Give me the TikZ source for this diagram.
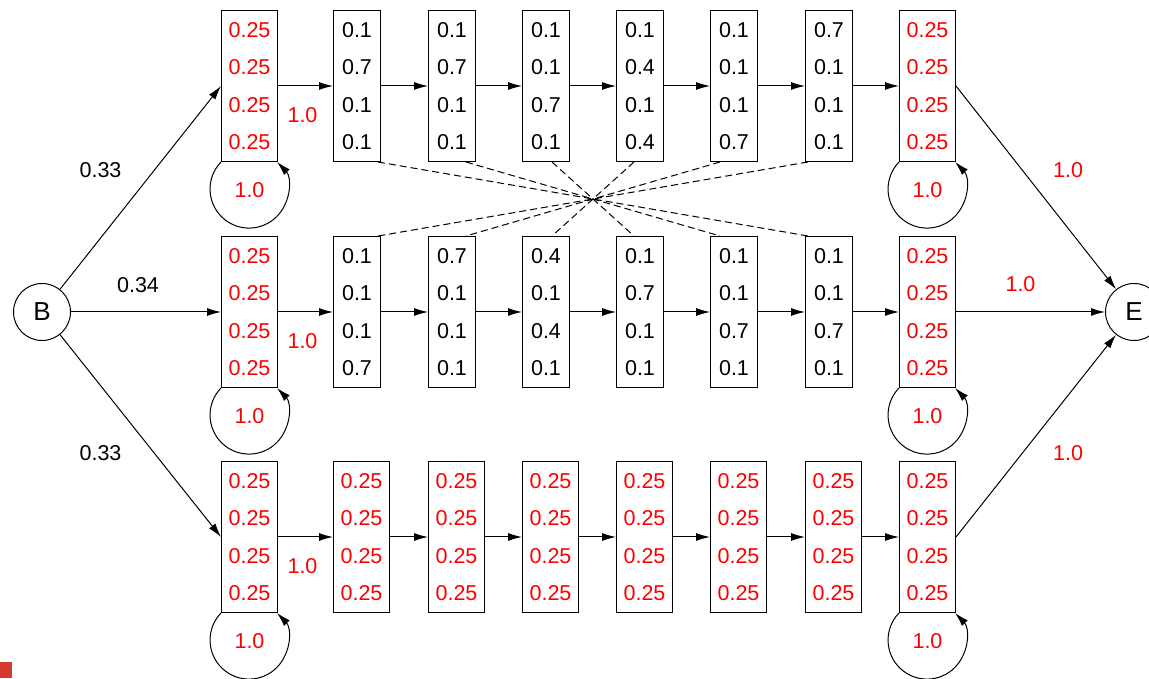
\documentclass[tikz,border=0pt]{standalone}
\usepackage{fontspec}
\setmainfont{Liberation Sans}
\usetikzlibrary{arrows.meta,positioning,calc}
\definecolor{probred}{RGB}{250,0,0}
\definecolor{markred}{RGB}{214,58,46}

\begin{document}
\begin{tikzpicture}[x=1pt,y=1pt,
    every node/.style={font=\fontsize{21.5}{37.5}\selectfont},
    state/.style={draw, rectangle, line width=1pt, minimum height=151pt,
                  inner sep=0pt, align=center, anchor=west},
    emit/.style={state, minimum width=47pt},
    flat/.style={state, minimum width=56pt, text=probred},
    term/.style={draw, circle, line width=1pt, minimum size=57pt, inner sep=0pt,
                 font=\fontsize{26}{30}\selectfont},
    trans/.style={line width=1pt, -{Latex[length=14pt,width=8pt]}},
    link/.style={line width=1pt, dash pattern=on 7pt off 4pt},
    lbl/.style={text=probred}]
  \useasboundingbox (0,0) rectangle (1149,678);

  % Begin and end states
  \node[term] (B) at (42,366) {B};
  \node[term] (E) at (1134,366) {E};

  % Flat states at both ends of every row
  \foreach \row/\y in {t/592, m/366, b/141} {
    \node[flat] (\row1) at (221,\y) {0.25\\0.25\\0.25\\0.25};
    \node[flat] (\row8) at (899,\y) {0.25\\0.25\\0.25\\0.25};
  }

  % Top row
  \foreach \n/\x/\pa/\pb/\pc/\pd in {
    2/333/0.1/0.7/0.1/0.1, 3/428/0.1/0.7/0.1/0.1, 4/522/0.1/0.1/0.7/0.1,
    5/616/0.1/0.4/0.1/0.4, 6/710/0.1/0.1/0.1/0.7, 7/805/0.7/0.1/0.1/0.1}
    \node[emit] (t\n) at (\x,592) {\pa\\\pb\\\pc\\\pd};

  % Middle row
  \foreach \n/\x/\pa/\pb/\pc/\pd in {
    2/333/0.1/0.1/0.1/0.7, 3/428/0.7/0.1/0.1/0.1, 4/522/0.4/0.1/0.4/0.1,
    5/616/0.1/0.7/0.1/0.1, 6/710/0.1/0.1/0.7/0.1, 7/805/0.1/0.1/0.7/0.1}
    \node[emit] (m\n) at (\x,366) {\pa\\\pb\\\pc\\\pd};

  % Bottom row (background model)
  \foreach \n/\x in {2/333, 3/428, 4/522, 5/616, 6/710, 7/805}
    \node[flat] (b\n) at (\x,141) {0.25\\0.25\\0.25\\0.25};

  % Entry transitions
  \draw[trans] (B) -- node[xshift=-40pt, yshift=18pt] {0.33} (t1.west);
  \draw[trans] (B) -- node[xshift=-8pt, yshift=27pt] {0.34} (m1.west);
  \draw[trans] (B) -- node[xshift=-40pt, yshift=-17pt] {0.33} (b1.west);

  % Exit transitions
  \draw[trans] (t8.east) -- node[lbl, xshift=32pt, yshift=18pt] {1.0} (E);
  \draw[trans] (m8.east) -- node[lbl, xshift=-10pt, yshift=28pt] {1.0} (E);
  \draw[trans] (b8.east) -- node[lbl, xshift=32pt, yshift=-17pt] {1.0} (E);

  % Chains along each row
  \foreach \row in {t,m,b} {
    \draw[trans] (\row1) -- node[lbl, xshift=-3pt, yshift=-29pt] {1.0} (\row2);
    \foreach \i [count=\j from 3] in {2,...,7}
      \draw[trans] (\row\i) -- (\row\j);
  }

  % Self loops on the flat states
  \foreach \st in {t1,t8,m1,m8,b1,b8} {
    \draw[trans] (\st.south west) arc[start angle=136, end angle=404, radius=39];
    \node[lbl] (l\st) at ([yshift=-28pt]\st.south) {1.0};
  }

  % Reversed motif links between top and middle rows
  \foreach \i/\j/\da/\db in {2/7/21/-21, 3/6/14/-14, 4/5/6/-6,
                             5/4/-6/6, 6/3/-14/14, 7/2/-21/21}
    \draw[link] ([xshift=\da pt]t\i.south) -- ([xshift=\db pt]m\j.north);

  % Corner mark
  \fill[markred] (0,0) rectangle (12,16);
\end{tikzpicture}
\end{document}
